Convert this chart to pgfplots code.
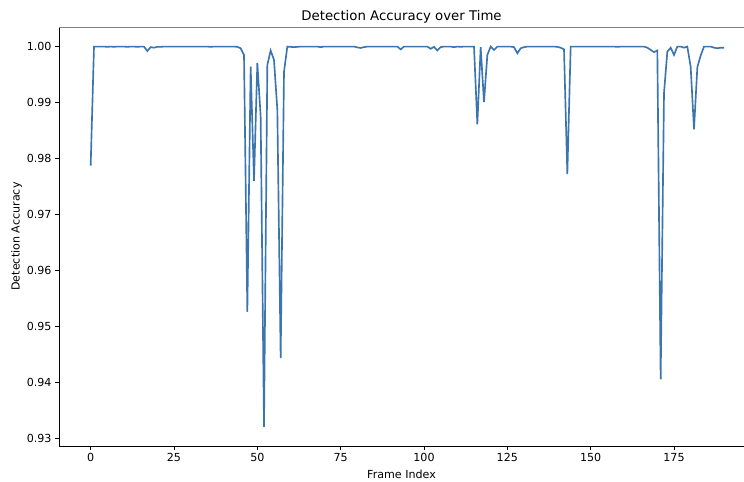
\documentclass[border=0pt]{standalone}
\usepackage{fontspec}
\setmainfont{DejaVu Sans}
\usepackage{pgfplots}
\pgfplotsset{compat=1.18}
\definecolor{linec}{RGB}{59,117,175}
\begin{document}
\begin{tikzpicture}
\begin{axis}[
  name=ax,
  scale only axis,
  width=685pt, height=419pt,
  xmin=-9.5, xmax=196.0,
  ymin=0.9286, ymax=1.0035,
  axis x line*=bottom, axis y line*=left,
  axis line style={-, line width=0.9pt},
  xtick={0,25,50,75,100,125,150,175},
  ytick={0.93,0.94,0.95,0.96,0.97,0.98,0.99,1.00},
  yticklabel style={/pgf/number format/.cd, fixed, fixed zerofill, precision=2},
  /pgf/number format/assume math mode=true,
  tick align=outside, major tick length=3.9pt,
  tick style={black, line width=0.9pt},
  ticklabel style={font=\fontsize{11.1}{13}\selectfont},
  xlabel={Frame Index}, ylabel={Detection Accuracy},
  label style={font=\fontsize{11.1}{13}\selectfont},
  title={Detection Accuracy over Time},
  title style={font=\fontsize{13.3}{16}\selectfont, yshift=-6pt},
  xlabel style={yshift=-1pt},
  ylabel style={yshift=-2pt},
]
\addplot[color=linec, line width=1.65pt, mark=none] table {
x y
0 0.9787
1 1.0000
2 1.0000
3 1.0000
4 1.0000
5 0.99995
6 1.0000
7 0.99995
8 1.0000
9 1.0000
10 1.0000
11 0.99995
12 1.0000
13 1.0000
14 0.99995
15 1.0000
16 1.0000
17 0.9992
18 0.9999
19 0.9998
20 0.99995
21 0.99995
22 1.0000
23 1.0000
24 1.0000
25 1.0000
26 1.0000
27 1.0000
28 1.0000
29 1.0000
30 1.0000
31 1.0000
32 1.0000
33 1.0000
34 1.0000
35 1.0000
36 0.99995
37 1.0000
38 1.0000
39 1.0000
40 1.0000
41 1.0000
42 1.0000
43 1.0000
44 0.99995
45 0.9997
46 0.9985
47 0.9526
48 0.9964
49 0.9760
50 0.9971
51 0.9875
52 0.9320
53 0.9967
54 0.9993
55 0.9976
56 0.9887
57 0.9443
58 0.9955
59 1.0000
60 0.99995
61 0.9999
62 0.99995
63 1.0000
64 1.0000
65 1.0000
66 1.0000
67 1.0000
68 1.0000
69 0.9999
70 1.0000
71 1.0000
72 1.0000
73 1.0000
74 1.0000
75 1.0000
76 1.0000
77 1.0000
78 1.0000
79 1.0000
80 0.99985
81 0.99975
82 0.9999
83 1.0000
84 1.0000
85 1.0000
86 1.0000
87 1.0000
88 1.0000
89 1.0000
90 1.0000
91 1.0000
92 1.0000
93 0.9995
94 1.0000
95 1.0000
96 1.0000
97 1.0000
98 1.0000
99 1.0000
100 1.0000
101 1.0000
102 0.9996
103 0.99995
104 0.9993
105 0.9999
106 1.0000
107 1.0000
108 1.0000
109 0.9999
110 1.0000
111 0.99995
112 1.0000
113 1.0000
114 1.0000
115 1.0000
116 0.9861
117 0.9999
118 0.9901
119 0.9985
120 1.0000
121 0.9994
122 1.0000
123 1.0000
124 1.0000
125 1.0000
126 1.0000
127 0.9999
128 0.9988
129 0.9997
130 0.9999
131 1.0000
132 1.0000
133 1.0000
134 1.0000
135 1.0000
136 1.0000
137 1.0000
138 1.0000
139 1.0000
140 0.99995
141 0.9998
142 0.9995
143 0.9772
144 1.0000
145 1.0000
146 1.0000
147 1.0000
148 1.0000
149 1.0000
150 1.0000
151 1.0000
152 1.0000
153 1.0000
154 1.0000
155 1.0000
156 1.0000
157 1.0000
158 0.99995
159 1.0000
160 1.0000
161 1.0000
162 1.0000
163 1.0000
164 1.0000
165 1.0000
166 1.0000
167 0.9998
168 0.9994
169 0.9990
170 0.9993
171 0.9405
172 0.9917
173 0.9991
174 0.9998
175 0.9985
176 1.0000
177 1.0000
178 0.9998
179 1.0000
180 0.9964
181 0.9852
182 0.9963
183 0.9984
184 1.0000
185 1.0000
186 1.0000
187 0.9998
188 0.9997
189 0.9998
190 0.9998
};
\end{axis}
\draw[black!50, line width=0.9pt] (ax.north west) -- (ax.north east);
\pgfresetboundingbox
\path ([xshift=-59pt,yshift=-35pt]ax.south west) rectangle ([yshift=27pt]ax.north east);
\end{tikzpicture}
\end{document}
